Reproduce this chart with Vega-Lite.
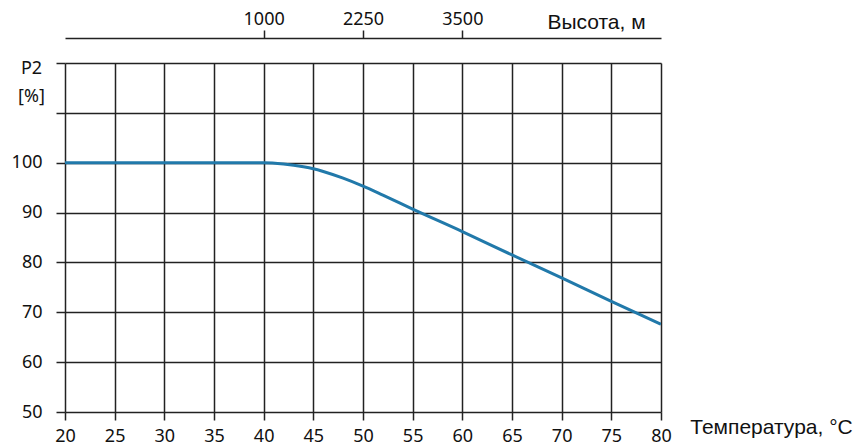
{
  "$schema": "https://vega.github.io/schema/vega-lite/v6.json",
  "width": 596,
  "height": 349,
  "autosize": {"type": "none"},
  "padding": {"left": 65, "top": 63, "right": 195, "bottom": 33},
  "config": {"view": {"stroke": null}, "font": "Noto Sans", "background": "white"},
  "data": {
    "values": [
      {"t": 20, "p": 100},
      {"t": 30, "p": 100},
      {"t": 40, "p": 100},
      {"t": 42, "p": 99.75},
      {"t": 44, "p": 99.2},
      {"t": 45, "p": 98.8},
      {"t": 46, "p": 98.25},
      {"t": 48, "p": 96.9},
      {"t": 50, "p": 95.3},
      {"t": 52, "p": 93.5},
      {"t": 55, "p": 90.7},
      {"t": 60, "p": 86.2},
      {"t": 65, "p": 81.5},
      {"t": 70, "p": 76.9},
      {"t": 75, "p": 72.2},
      {"t": 80, "p": 67.6}
    ]
  },
  "resolve": {"axis": {"x": "independent"}},
  "layer": [
    {
      "mark": {"type": "line", "color": "#2179aa", "strokeWidth": 3, "interpolate": "monotone", "clip": true},
      "encoding": {
        "x": {
          "field": "t",
          "type": "quantitative",
          "scale": {"domain": [20, 80], "nice": false, "zero": false},
          "axis": {
            "orient": "bottom",
            "values": [20, 25, 30, 35, 40, 45, 50, 55, 60, 65, 70, 75, 80],
            "grid": true,
            "gridColor": "#222",
            "gridWidth": 1.5,
            "gridOpacity": 1,
            "domain": false,
            "tickSize": 8,
            "tickColor": "#222",
            "tickWidth": 1.5,
            "labelFont": "Noto Sans",
            "labelFontSize": 18,
            "labelColor": "#111",
            "labelPadding": 7,
            "labelFlush": false,
            "labelOverlap": false,
            "title": "Температура, °C",
            "titleFont": "Liberation Sans",
            "titleFontSize": 21,
            "titleFontWeight": "normal",
            "titleColor": "#111",
            "titleX": 706,
            "titleY": 21,
            "titleAlign": "center",
            "titleBaseline": "alphabetic"
          }
        },
        "y": {
          "field": "p",
          "type": "quantitative",
          "scale": {"domain": [50, 120], "nice": false, "zero": false},
          "axis": {
            "values": [50, 60, 70, 80, 90, 100, 110, 120],
            "labelExpr": "datum.value <= 100 ? datum.label : ''",
            "grid": true,
            "gridColor": "#222",
            "gridWidth": 1.5,
            "gridOpacity": 1,
            "domain": false,
            "tickSize": 9,
            "tickColor": "#222",
            "tickWidth": 1.5,
            "labelFont": "Noto Sans",
            "labelFontSize": 18,
            "labelColor": "#111",
            "labelPadding": 14,
            "labelFlush": false,
            "labelOverlap": false,
            "title": ["P2", "[%]"],
            "titleAngle": 0,
            "titleFont": "Noto Sans",
            "titleFontSize": 18,
            "titleFontWeight": "normal",
            "titleColor": "#111",
            "titleLineHeight": 28,
            "titleX": -34,
            "titleY": 5,
            "titleAlign": "center",
            "titleBaseline": "middle"
          }
        }
      }
    },
    {
      "mark": {"type": "rule", "opacity": 0},
      "encoding": {
        "x": {
          "field": "t",
          "type": "quantitative",
          "axis": {
            "orient": "top",
            "offset": 25,
            "values": [40, 50, 60],
            "labelExpr": "format((datum.value - 40) * 125 + 1000, 'd')",
            "grid": false,
            "domain": true,
            "domainColor": "#222",
            "domainWidth": 1.5,
            "tickSize": 8,
            "tickColor": "#222",
            "tickWidth": 1.5,
            "labelFont": "Noto Sans",
            "labelFontSize": 18,
            "labelColor": "#111",
            "labelPadding": 2,
            "title": "Высота, м",
            "titleFont": "Liberation Sans",
            "titleFontSize": 21,
            "titleFontWeight": "normal",
            "titleColor": "#111",
            "titleX": 531,
            "titleY": -16,
            "titleAlign": "center",
            "titleBaseline": "middle"
          }
        }
      }
    }
  ]
}
